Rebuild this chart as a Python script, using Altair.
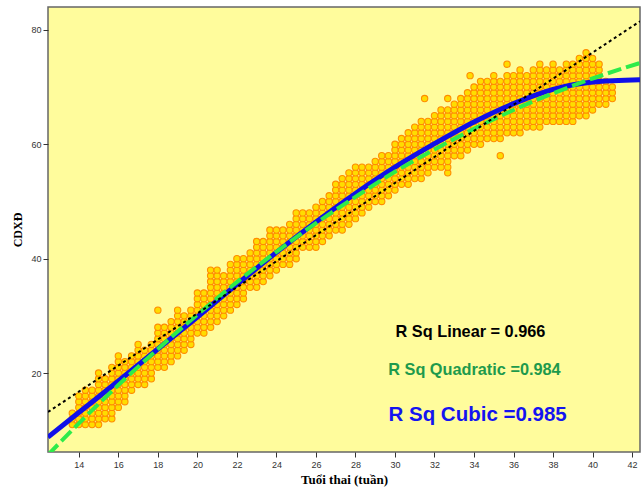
import altair as alt
import pandas as pd

# ---- scatter: for each gestational-age column (weeks), the lowest and highest CDXĐ values (mm)
col_x = [13.67, 14.00, 14.33, 14.67, 15.00, 15.33, 15.67, 16.00, 16.33, 16.67,
         17.00, 17.33, 17.67, 18.00, 18.33, 18.67, 19.00, 19.33, 19.67, 20.00,
         20.33, 20.67, 21.00, 21.33, 21.67, 22.00, 22.33, 22.67, 23.00, 23.33,
         23.67, 24.00, 24.33, 24.67, 25.00, 25.33, 25.67, 26.00, 26.33, 26.67,
         27.00, 27.33, 27.67, 28.00, 28.33, 28.67, 29.00, 29.33, 29.67, 30.00,
         30.33, 30.67, 31.00, 31.33, 31.67, 32.00, 32.33, 32.67, 33.00, 33.33,
         33.67, 34.00, 34.33, 34.67, 35.00, 35.33, 35.67, 36.00, 36.33, 36.67,
         37.00, 37.33, 37.67, 38.00, 38.33, 38.67, 39.00, 39.33, 39.67, 40.00,
         40.33, 40.67, 41.00]
col_lo = [11, 11, 11, 11, 11, 12, 12, 14, 15, 17,
          18, 18, 19, 21, 21, 22, 23, 24, 25, 27,
          27, 28, 29, 30, 31, 32, 33, 35, 35, 36,
          37, 38, 39, 39, 40, 42, 42, 42, 43, 44,
          45, 45, 46, 47, 48, 49, 50, 50, 51, 52,
          53, 53, 54, 54, 55, 56, 56, 55, 58, 58,
          59, 60, 60, 61, 61, 61, 62, 62, 62, 63,
          63, 63, 64, 64, 64, 64, 64, 65, 65, 66,
          67, 67, 68]
col_hi = [13, 16, 17, 17, 20, 19, 21, 23, 22, 23,
          25, 24, 25, 28, 28, 29, 31, 30, 31, 34,
          34, 38, 38, 37, 39, 40, 40, 41, 43, 43,
          45, 45, 45, 46, 48, 48, 48, 49, 50, 51,
          53, 54, 55, 56, 56, 56, 57, 58, 58, 60,
          61, 62, 63, 64, 64, 65, 66, 66, 67, 68,
          69, 70, 71, 71, 72, 71, 72, 72, 73, 72,
          73, 74, 73, 74, 73, 74, 74, 75, 76, 75,
          74, 71, 70]
# isolated points
extra_x = [18.00, 31.50, 32.67, 33.80, 35.67, 35.33]
extra_y = [31, 68, 68, 72, 74, 58]

# ---- fitted curves
lin_x = [12.44, 42.40]
lin_y = [13.2, 81.5]
fit_x = [12.44, 14, 16, 18, 20, 22, 24, 26, 28, 30, 32, 34, 36, 38, 40, 42.40]
quad_y = [5.7, 11.2, 17.9, 24.2, 30.2, 35.9, 41.2, 46.2, 50.8, 55.2, 59.1, 62.7, 66.0, 68.9, 71.5, 74.2]
cubic_y = [8.8, 13.1, 18.6, 24.2, 29.8, 35.5, 41.1, 46.4, 51.4, 56.0, 60.1, 63.9, 67.1, 69.6, 70.9, 71.3]

# ---- R² labels
lab_text = ["R Sq Linear = 0.966", "R Sq Quadratic =0.984", "R Sq Cubic =0.985"]
lab_x = [30.03, 29.66, 29.67]
lab_y = [27.2, 20.5, 12.6]
lab_color = ["#000000", "#1E9A4C", "#1414F0"]
lab_size = [16.3, 16.3, 20.5]

x_ticks = list(range(14, 43, 2))
y_ticks = [20, 40, 60, 80]

rows = []
for xv, lo, hi in zip(col_x, col_lo, col_hi):
    for yv in range(lo, hi + 1):
        rows.append({"x": xv, "y": yv})
for xv, yv in zip(extra_x, extra_y):
    rows.append({"x": xv, "y": yv})
pts = pd.DataFrame(rows)

lin_df = pd.DataFrame({"x": lin_x, "y": lin_y})
quad_df = pd.DataFrame({"x": fit_x, "y": quad_y})
cub_df = pd.DataFrame({"x": fit_x, "y": cubic_y})

xs = alt.Scale(domain=[12.44, 42.4], nice=False, zero=False)
ys = alt.Scale(domain=[6.2, 84.0], nice=False, zero=False)

X = alt.X("x:Q", scale=xs, title="Tuổi thai (tuần)",
          axis=alt.Axis(values=x_ticks, format="d", grid=False))
Y = alt.Y("y:Q", scale=ys, title="CDXĐ",
          axis=alt.Axis(values=y_ticks, format="d", grid=False))

points = alt.Chart(pts).mark_point(
    shape="circle", filled=True, size=40, fill="#FFDC00", stroke="#FF8C00",
    strokeWidth=1.1, opacity=1, clip=True
).encode(x=X, y=Y)

cubic = alt.Chart(cub_df).mark_line(
    color="#1010E8", strokeWidth=5, interpolate="monotone", clip=True
).encode(x=X, y=Y)

quad = alt.Chart(quad_df).mark_line(
    color="#2EEB4A", strokeWidth=4, strokeDash=[14, 5], interpolate="monotone", clip=True
).encode(x=X, y=Y)

linear = alt.Chart(lin_df).mark_line(
    color="#000000", strokeWidth=2, strokeDash=[3, 3], clip=True
).encode(x=X, y=Y)

texts = []
for t, xv, yv, c, s in zip(lab_text, lab_x, lab_y, lab_color, lab_size):
    texts.append(
        alt.Chart(pd.DataFrame({"x": [xv], "y": [yv], "t": [t]})).mark_text(
            align="left", baseline="middle", font="Liberation Sans",
            fontWeight="bold", fontSize=s, color=c
        ).encode(x=X, y=Y, text="t:N")
    )

chart = alt.layer(points, cubic, quad, linear, *texts).properties(
    width=592, height=445,
    autosize=alt.AutoSizeParams(type="none"),
    padding={"left": 48, "top": 7, "right": 3, "bottom": 40},
).configure_view(
    fill="#FFFC9C", stroke="#666666", strokeWidth=1.5
).configure_axis(
    domain=False, tickColor="#333333", tickSize=5, tickWidth=1,
    labelFont="Liberation Sans", labelFontSize=9, labelColor="#333333",
    titleFont="Liberation Serif", titleFontWeight="bold", titleFontSize=13,
    titleColor="#000000"
).configure_axisX(
    labelPadding=3, titlePadding=4
).configure_axisY(
    labelPadding=2, titlePadding=6, titleFontSize=12
)

chart.save("out.html", embed_options={"renderer": "svg", "actions": False})
